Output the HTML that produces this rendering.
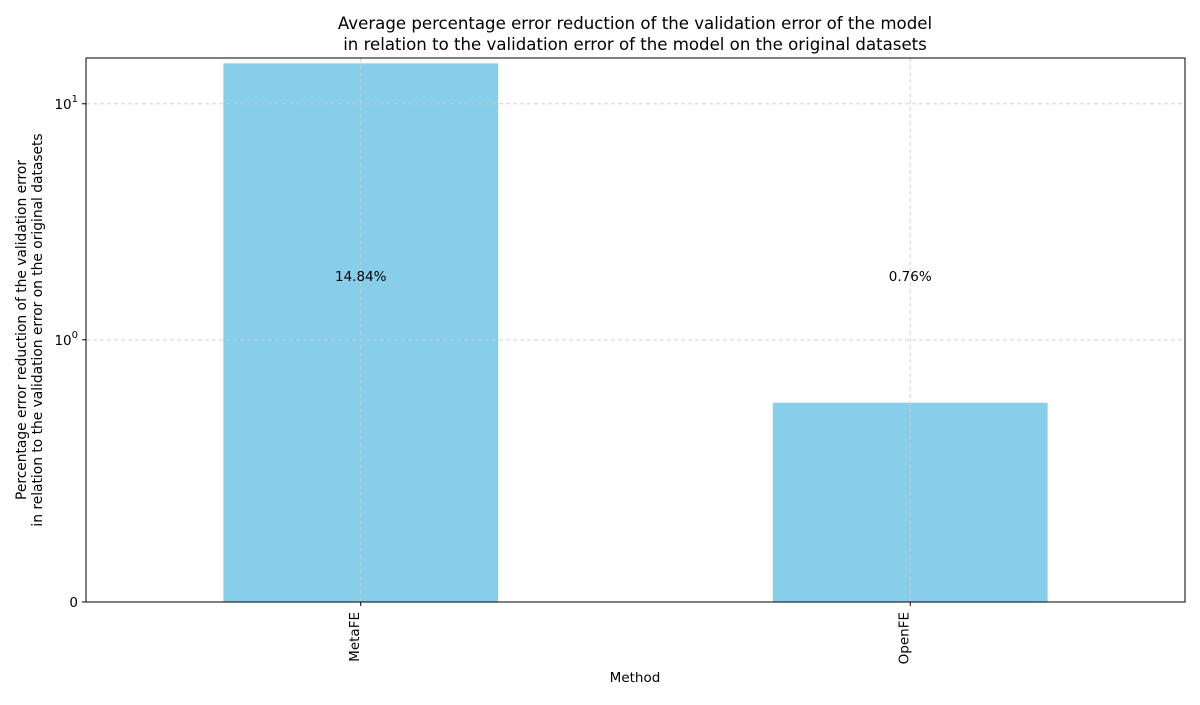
<!DOCTYPE html>
<html><head><meta charset="utf-8"><style>
body{margin:0;background:#fff;}
svg text{font-family:"DejaVu Sans","Liberation Sans",sans-serif;fill:#000;}
</style></head><body>
<svg id="chart" width="1200" height="700">
<text x="635" y="29" font-size="16.6" text-anchor="middle">Average percentage error reduction of the validation error of the model</text>
<text x="635" y="50" font-size="16.6" text-anchor="middle">in relation to the validation error of the model on the original datasets</text>
<text transform="translate(26,330) rotate(-90)" font-size="13.8" text-anchor="middle">Percentage error reduction of the validation error</text>
<text transform="translate(42,330) rotate(-90)" font-size="13.8" text-anchor="middle">in relation to the validation error on the original datasets</text>
<text x="635" y="682" font-size="13.5" text-anchor="middle">Method</text>
<g id="plot"></g>
</svg>
<script>
const categories=["MetaFE","OpenFE"];
const values=[14.84,0.76];
const valueLabels=["14.84%","0.76%"];
const yTicks=[0,1,10];
const yTickLabels=["0","10<tspan dy='-7' font-size='10'>0</tspan>","10<tspan dy='-7' font-size='10'>1</tspan>"];
const labelValue=1.86;

const L=86,R=1185,T=58,B=602,ymax=15.63;
const linAdj=1/(1-1/10);
function tr(v){return v<=1?v*linAdj:linAdj+Math.log10(v);}
function y(v){return B-(tr(v)/tr(ymax))*(B-T);}
function x(i){return L+(i+0.5)/2*(R-L);}
const bw=0.5/2*(R-L);
const g=document.getElementById('plot');
const NS="http://www.w3.org/2000/svg";
function el(t,a,p){const e=document.createElementNS(NS,t);for(const k in a)e.setAttribute(k,a[k]);(p||g).appendChild(e);return e;}
values.forEach((v,i)=>{
  const r=el('rect',{x:x(i)-bw/2,y:y(v),width:bw,height:B-y(v),fill:'#87CEEB'});
  
  
});
yTicks.forEach((t,i)=>{
  const yy=y(t);
  if(t>0){const gl=el('line',{x1:L,x2:R,y1:yy,y2:yy,stroke:'#cccccc','stroke-width':0.9,'stroke-dasharray':'4,3'});
  }
  el('line',{x1:L-4,x2:L,y1:yy,y2:yy,stroke:'#000'});
  const tx=el('text',{x:L-8,y:yy+5,'font-size':13.5,'text-anchor':'end'});
  tx.innerHTML=yTickLabels[i];
  
  
});
categories.forEach((c,i)=>{
  const xx=x(i);
  const gl=el('line',{x1:xx,x2:xx,y1:T,y2:B,stroke:'#cccccc','stroke-width':0.9,'stroke-dasharray':'4,3'});
  
  el('line',{x1:xx,x2:xx,y1:B,y2:B+4,stroke:'#000'});
  const tx=el('text',{transform:`translate(${xx-2},612) rotate(-90)`,'font-size':13.5,'text-anchor':'end'});
  tx.textContent=c;
  
  
  const vl=el('text',{x:xx,y:y(labelValue)+5,'font-size':13.5,'text-anchor':'middle'});
  vl.textContent=valueLabels[i];
  
  
});
const fr=el('rect',{x:L,y:T,width:R-L,height:B-T,fill:'none',stroke:'#000','stroke-width':1});


</script>
</body></html>
